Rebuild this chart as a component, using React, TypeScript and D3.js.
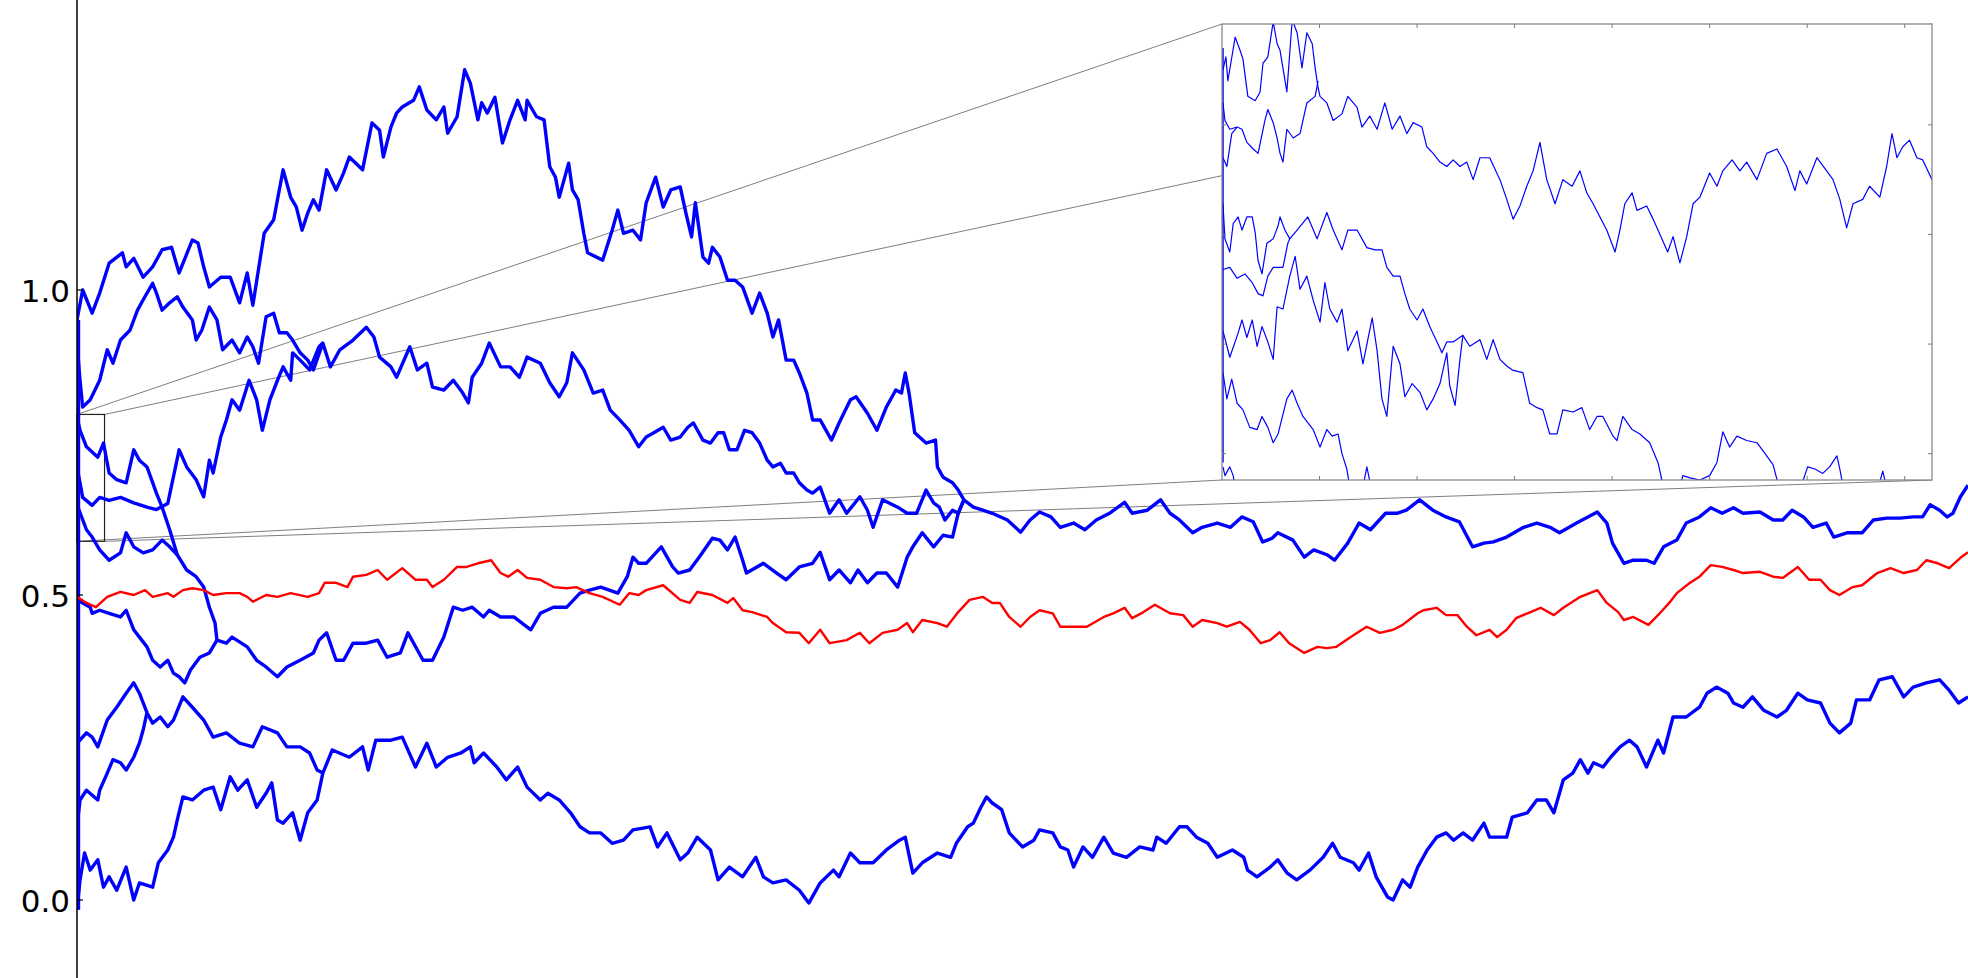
import React from 'react';
import * as d3 from 'd3';

type P = [number, number];

// ---------- y-axis ticks ----------
const yTicks = [0.0, 0.5, 1.0];
const insetXTicks = [0.002, 0.004, 0.006, 0.008, 0.01, 0.012, 0.014];
const insetYTicks = [0.6, 0.65, 0.7, 0.75];

// zoom window (shown in the inset)
const zoomX: [number, number] = [0, 0.01456];
const zoomY: [number, number] = [0.588, 0.796];

// every path starts on the line t = 0 (band of starting points)
const startBand: [number, number] = [-0.016, 0.951];

// ---------- main paths (t, value) ----------
const pathA: P[] = [[0,.951],[.003,1.000],[.008,.962],[.012,.995],[.017,1.044],[.024,1.061],[.026,1.038],[.030,1.052],[.035,1.021],[.040,1.038],[.045,1.066],[.050,1.070],[.054,1.028],[.061,1.082],[.064,1.077],[.067,1.038],[.070,1.005],[.076,1.021],[.081,1.021],[.086,.979],[.090,1.028],[.093,.975],[.097,1.054],[.099,1.093],[.104,1.115],[.106,1.148],[.109,1.197],[.113,1.152],[.116,1.136],[.119,1.098],[.122,1.126],[.125,1.148],[.128,1.131],[.132,1.197],[.137,1.164],[.141,1.192],[.144,1.218],[.151,1.197],[.156,1.274],[.160,1.262],[.162,1.218],[.166,1.267],[.169,1.290],[.172,1.300],[.178,1.311],[.181,1.333],[.185,1.295],[.190,1.279],[.194,1.300],[.196,1.257],[.201,1.284],[.205,1.361],[.208,1.339],[.212,1.279],[.214,1.307],[.217,1.290],[.221,1.316],[.225,1.241],[.229,1.279],[.233,1.311],[.237,1.279],[.238,1.311],[.243,1.284],[.247,1.279],[.250,1.202],[.253,1.185],[.255,1.152],[.260,1.208],[.262,1.164],[.265,1.148],[.268,1.093],[.270,1.061],[.278,1.049],[.283,1.098],[.286,1.131],[.289,1.093],[.294,1.098],[.298,1.082],[.301,1.143],[.306,1.185],[.310,1.136],[.314,1.164],[.319,1.169],[.322,1.126],[.325,1.087],[.327,1.143],[.331,1.054],[.334,1.044],[.336,1.070],[.340,1.054],[.344,1.016],[.348,1.016],[.352,1.005],[.357,.962],[.361,.995],[.365,.962],[.368,.923],[.371,.951],[.375,.885],[.379,.885],[.382,.864],[.386,.831],[.389,.787],[.393,.787],[.399,.754],[.403,.782],[.409,.820],[.412,.825],[.418,.798],[.423,.770],[.428,.808],[.433,.836],[.436,.831],[.438,.864],[.440,.831],[.443,.766],[.449,.749],[.454,.754],[.455,.710],[.458,.693],[.463,.684],[.466,.672],[.469,.656]];

const pathB: P[] = [[0,.913],[.0016,.852],[.003,.808],[.007,.820],[.012,.852],[.016,.902],[.019,.880],[.023,.918],[.028,.934],[.032,.967],[.035,.984],[.040,1.011],[.042,.995],[.045,.967],[.049,.979],[.053,.989],[.056,.972],[.061,.951],[.063,.918],[.066,.934],[.070,.972],[.074,.951],[.077,.902],[.082,.918],[.086,.897],[.090,.923],[.093,.907],[.096,.880],[.100,.956],[.104,.962],[.107,.930],[.111,.930],[.114,.918],[.118,.897],[.122,.885],[.125,.869],[.130,.913],[.134,.874],[.139,.902],[.146,.918],[.153,.939],[.157,.923],[.160,.890],[.166,.874],[.169,.857],[.176,.907],[.180,.869],[.185,.880],[.188,.841],[.194,.836],[.199,.852],[.204,.831],[.207,.815],[.209,.857],[.214,.880],[.218,.913],[.224,.874],[.229,.874],[.234,.857],[.238,.890],[.245,.880],[.250,.848],[.255,.825],[.259,.848],[.262,.897],[.268,.869],[.273,.831],[.278,.836],[.282,.803],[.287,.787],[.292,.770],[.297,.743],[.301,.759],[.305,.766],[.310,.775],[.314,.754],[.319,.759],[.323,.775],[.326,.782],[.331,.754],[.335,.749],[.339,.766],[.342,.766],[.345,.738],[.349,.738],[.353,.770],[.357,.766],[.361,.749],[.365,.721],[.368,.710],[.372,.716],[.375,.700],[.379,.700],[.382,.684],[.386,.672],[.389,.667],[.393,.677],[.398,.634],[.403,.656],[.407,.634],[.414,.661],[.418,.639],[.421,.611],[.426,.656],[.434,.644],[.439,.634],[.444,.634],[.449,.672],[.453,.651],[.456,.644],[.459,.623],[.463,.639],[.466,.634],[.469,.656]];

const pathJ: P[] = [[0,.710],[.003,.660],[.008,.647],[.012,.660],[.017,.655],[.023,.660],[.030,.651],[.037,.644],[.042,.640],[.048,.650],[.054,.738],[.058,.710],[.063,.689],[.067,.661],[.070,.721],[.072,.700],[.076,.759],[.079,.787],[.082,.820],[.086,.803],[.091,.852],[.095,.820],[.098,.770],[.102,.820],[.106,.852],[.109,.874],[.113,.852],[.114,.897],[.118,.885],[.123,.869],[.128,.907],[.130,.913]];

const pathC: P[] = [[0,.792],[.0016,.770],[.005,.743],[.011,.726],[.014,.749],[.017,.700],[.021,.689],[.026,.684],[.030,.738],[.033,.721],[.037,.710],[.042,.667],[.045,.644],[.049,.607],[.053,.566],[.058,.541],[.063,.530],[.067,.513],[.070,.480],[.073,.454],[.074,.426],[.079,.421],[.082,.431],[.090,.415],[.095,.393],[.100,.382],[.106,.366],[.111,.382],[.118,.393],[.125,.405],[.128,.426],[.132,.438],[.137,.393],[.141,.393],[.146,.421],[.153,.421],[.159,.426],[.164,.398],[.171,.405],[.175,.438],[.183,.393],[.188,.393],[.194,.431],[.199,.480],[.204,.475],[.209,.480],[.215,.464],[.218,.475],[.224,.464],[.231,.464],[.240,.443],[.245,.470],[.252,.480],[.259,.480],[.266,.503],[.271,.508],[.277,.513],[.286,.503],[.291,.530],[.294,.562],[.297,.552],[.301,.552],[.309,.579],[.315,.546],[.318,.536],[.324,.541],[.329,.562],[.336,.593],[.340,.590],[.344,.574],[.348,.595],[.352,.557],[.354,.536],[.363,.552],[.370,.536],[.375,.525],[.382,.546],[.389,.552],[.393,.570],[.398,.525],[.403,.541],[.409,.520],[.413,.541],[.418,.520],[.423,.536],[.428,.536],[.434,.513],[.439,.562],[.442,.579],[.447,.602],[.453,.579],[.458,.598],[.463,.595],[.466,.634],[.469,.656]];

const pathK: P[] = [[0,.648],[.005,.607],[.008,.595],[.012,.574],[.017,.557],[.023,.569],[.026,.602],[.030,.579],[.035,.569],[.040,.574],[.045,.590],[.049,.579],[.053,.566]];

const pathG: P[] = [[0,.492],[.007,.480],[.008,.470],[.012,.475],[.017,.470],[.023,.464],[.026,.475],[.030,.443],[.033,.431],[.037,.415],[.040,.393],[.044,.382],[.048,.393],[.051,.372],[.054,.366],[.057,.356],[.060,.377],[.065,.398],[.070,.405],[.074,.426]];

const pathM: P[] = [[.469,.656],[.474,.644],[.479,.639],[.484,.634],[.492,.623],[.499,.603],[.504,.623],[.509,.636],[.515,.628],[.520,.611],[.527,.618],[.533,.607],[.539,.623],[.546,.634],[.554,.652],[.558,.634],[.566,.639],[.573,.656],[.578,.634],[.583,.623],[.590,.602],[.595,.611],[.603,.618],[.610,.611],[.616,.628],[.622,.620],[.627,.587],[.632,.593],[.635,.602],[.643,.590],[.649,.562],[.654,.574],[.661,.566],[.665,.557],[.672,.585],[.678,.618],[.684,.607],[.692,.634],[.698,.634],[.703,.639],[.710,.656],[.717,.639],[.724,.628],[.731,.620],[.738,.579],[.744,.585],[.749,.587],[.756,.595],[.765,.611],[.772,.618],[.779,.611],[.784,.602],[.793,.618],[.804,.636],[.809,.618],[.812,.585],[.818,.552],[.823,.557],[.830,.557],[.834,.552],[.839,.579],[.846,.590],[.851,.618],[.858,.628],[.864,.643],[.870,.634],[.876,.643],[.881,.634],[.890,.636],[.897,.623],[.902,.623],[.907,.639],[.913,.628],[.918,.611],[.925,.618],[.929,.595],[.936,.602],[.944,.602],[.950,.623],[.957,.626],[.964,.626],[.971,.628],[.976,.628],[.980,.648],[.985,.639],[.989,.628],[.992,.634],[.996,.661],[1.0,.680]];

const pathF: P[] = [[0,.257],[.005,.274],[.008,.267],[.011,.251],[.016,.295],[.021,.316],[.026,.339],[.030,.356],[.033,.339],[.037,.307],[.040,.290],[.044,.300],[.048,.284],[.051,.295],[.056,.333],[.061,.316],[.067,.295],[.072,.267],[.079,.274],[.086,.257],[.093,.251],[.098,.284],[.106,.274],[.111,.251],[.118,.251],[.123,.241],[.127,.213],[.130,.208]];

const pathH: P[] = [[0,.120],[.0016,.164],[.005,.180],[.011,.164],[.012,.180],[.016,.208],[.019,.230],[.023,.225],[.026,.213],[.030,.234],[.033,.257],[.035,.279],[.037,.307]];

const pathD: P[] = [[0,-.016],[.0016,.033],[.004,.077],[.007,.049],[.011,.066],[.014,.021],[.017,.038],[.021,.016],[.026,.054],[.030,.000],[.033,.028],[.040,.021],[.043,.061],[.048,.082],[.051,.103],[.053,.131],[.056,.169],[.061,.164],[.067,.180],[.072,.185],[.076,.148],[.081,.202],[.085,.180],[.090,.197],[.095,.152],[.100,.175],[.103,.192],[.106,.131],[.109,.126],[.114,.143],[.118,.098],[.122,.143],[.127,.164],[.130,.208],[.135,.246],[.144,.234],[.151,.251],[.154,.213],[.158,.262],[.166,.262],[.172,.267],[.179,.218],[.185,.257],[.190,.218],[.196,.234],[.203,.241],[.208,.251],[.210,.225],[.215,.241],[.222,.218],[.227,.197],[.233,.218],[.238,.185],[.245,.164],[.249,.175],[.255,.164],[.261,.143],[.266,.120],[.271,.110],[.277,.110],[.283,.093],[.289,.098],[.294,.115],[.303,.120],[.307,.087],[.312,.110],[.319,.066],[.323,.077],[.328,.103],[.335,.082],[.339,.033],[.345,.054],[.352,.038],[.359,.070],[.363,.038],[.368,.028],[.375,.033],[.382,.016],[.387,-.005],[.393,.028],[.400,.049],[.403,.038],[.409,.077],[.414,.061],[.421,.061],[.428,.082],[.435,.098],[.438,.103],[.442,.044],[.447,.061],[.455,.077],[.462,.070],[.465,.093],[.471,.120],[.474,.126],[.478,.152],[.481,.169],[.484,.159],[.489,.148],[.493,.110],[.500,.087],[.506,.098],[.509,.115],[.516,.110],[.520,.087],[.524,.082],[.527,.054],[.532,.087],[.537,.070],[.543,.103],[.548,.077],[.555,.070],[.562,.087],[.569,.082],[.571,.103],[.576,.093],[.583,.120],[.587,.120],[.592,.103],[.598,.093],[.603,.070],[.611,.082],[.617,.070],[.619,.049],[.624,.038],[.631,.054],[.635,.066],[.640,.044],[.645,.033],[.652,.049],[.659,.070],[.664,.093],[.668,.070],[.675,.061],[.678,.049],[.683,.077],[.687,.038],[.693,.005],[.696,.000],[.701,.033],[.705,.021],[.709,.054],[.714,.082],[.719,.103],[.724,.110],[.728,.098],[.733,.110],[.738,.098],[.744,.126],[.747,.103],[.756,.103],[.759,.136],[.767,.143],[.772,.164],[.777,.164],[.781,.143],[.786,.197],[.791,.208],[.795,.230],[.799,.208],[.802,.225],[.807,.218],[.811,.234],[.816,.251],[.821,.262],[.825,.251],[.830,.218],[.836,.262],[.839,.241],[.844,.300],[.851,.300],[.858,.316],[.862,.339],[.867,.349],[.873,.339],[.876,.323],[.881,.316],[.886,.333],[.892,.311],[.899,.300],[.904,.311],[.910,.339],[.915,.328],[.922,.323],[.927,.290],[.932,.274],[.938,.290],[.941,.328],[.948,.328],[.953,.361],[.960,.366],[.966,.333],[.971,.349],[.978,.356],[.985,.361],[.990,.344],[.995,.323],[1.0,.333]];

const redPath: P[] = [[0,.497],[.005,.487],[.010,.480],[.016,.497],[.023,.505],[.030,.500],[.036,.508],[.040,.497],[.048,.503],[.051,.497],[.056,.508],[.061,.511],[.067,.508],[.072,.500],[.079,.503],[.086,.503],[.090,.497],[.093,.489],[.100,.500],[.106,.497],[.113,.503],[.122,.497],[.128,.503],[.131,.520],[.137,.520],[.143,.513],[.146,.530],[.153,.533],[.159,.541],[.164,.525],[.172,.544],[.179,.525],[.185,.525],[.188,.513],[.194,.525],[.201,.546],[.206,.546],[.212,.552],[.219,.557],[.224,.536],[.228,.530],[.233,.541],[.238,.528],[.245,.525],[.252,.513],[.259,.511],[.264,.513],[.271,.503],[.278,.497],[.287,.484],[.292,.503],[.297,.500],[.301,.508],[.310,.516],[.319,.492],[.324,.487],[.328,.505],[.336,.500],[.344,.487],[.347,.495],[.352,.475],[.357,.472],[.365,.464],[.368,.454],[.375,.439],[.382,.438],[.387,.421],[.393,.443],[.398,.421],[.407,.426],[.414,.438],[.419,.421],[.426,.438],[.434,.443],[.439,.454],[.442,.439],[.447,.459],[.455,.454],[.460,.448],[.466,.472],[.472,.492],[.479,.497],[.484,.487],[.488,.487],[.493,.464],[.499,.448],[.504,.464],[.509,.475],[.516,.470],[.520,.448],[.527,.448],[.534,.448],[.543,.464],[.548,.470],[.554,.479],[.558,.462],[.564,.472],[.570,.484],[.578,.470],[.585,.467],[.590,.448],[.595,.459],[.603,.454],[.608,.448],[.615,.456],[.620,.443],[.626,.421],[.631,.426],[.636,.439],[.641,.421],[.649,.405],[.656,.415],[.661,.413],[.666,.415],[.673,.430],[.682,.448],[.689,.438],[.696,.443],[.701,.451],[.709,.470],[.712,.475],[.719,.479],[.724,.467],[.730,.467],[.735,.448],[.740,.434],[.747,.443],[.751,.431],[.756,.443],[.761,.462],[.767,.470],[.774,.479],[.781,.467],[.786,.479],[.795,.497],[.804,.508],[.809,.487],[.815,.472],[.818,.459],[.823,.464],[.831,.451],[.837,.470],[.842,.487],[.846,.503],[.853,.520],[.858,.530],[.864,.549],[.870,.546],[.876,.541],[.881,.536],[.890,.538],[.897,.530],[.902,.528],[.910,.546],[.916,.525],[.922,.525],[.927,.508],[.932,.500],[.939,.513],[.944,.516],[.952,.536],[.959,.544],[.966,.536],[.973,.541],[.978,.557],[.984,.552],[.990,.544],[.996,.561],[1.0,.570]];

const mainBlue: P[][] = [pathD, pathH, pathF, pathG, pathK, pathJ, pathC, pathB, pathA, pathM];

// ---------- inset paths (zoomed start) ----------
const inset1: P[] = [[.00002,.775],[.00008,.781],[.00012,.770],[.00027,.790],[.00037,.784],[.00043,.780],[.00053,.763],[.00068,.761],[.00078,.765],[.00084,.778],[.00094,.781],[.00105,.797],[.00113,.787],[.00119,.784],[.00133,.765],[.00144,.798],[.00154,.792],[.00164,.776],[.00174,.792],[.00185,.787],[.00191,.776],[.00197,.767],[.00201,.763],[.00215,.760],[.00228,.752],[.00246,.755],[.00258,.763],[.00277,.758],[.00287,.749],[.00303,.754],[.00318,.748],[.00334,.760],[.00349,.748],[.00365,.754],[.00379,.746],[.00392,.751],[.0041,.749],[.0042,.740],[.00433,.737],[.00447,.733],[.00461,.731],[.00474,.734],[.00488,.731],[.00502,.733],[.00515,.725],[.00529,.735],[.00549,.735],[.0057,.725],[.00584,.716],[.00597,.707],[.00611,.713],[.00625,.722],[.00638,.729],[.00652,.742],[.00666,.725],[.00683,.714],[.00699,.725],[.00718,.722],[.00734,.729],[.00748,.719],[.00761,.714],[.00775,.708],[.00789,.702],[.00806,.692],[.00816,.702],[.00826,.714],[.00841,.719],[.00851,.711],[.00871,.713],[.00884,.707],[.00902,.698],[.00914,.692],[.00925,.699],[.00939,.687],[.00953,.699],[.00966,.714],[.0098,.717],[.01,.728],[.01015,.722],[.01027,.729],[.01046,.734],[.01062,.729],[.01076,.733],[.01097,.725],[.01117,.737],[.01138,.739],[.01158,.731],[.01175,.720],[.01185,.729],[.01199,.723],[.0122,.735],[.0124,.729],[.01253,.725],[.01267,.716],[.01281,.703],[.01294,.714],[.01314,.716],[.01328,.722],[.01349,.717],[.01363,.731],[.01374,.746],[.01384,.735],[.01396,.740],[.0141,.743],[.01425,.735],[.01437,.734],[.01456,.725]];
const inset2: P[] = [[.00002,.760],[.00006,.752],[.00016,.748],[.00031,.749],[.00041,.748],[.00051,.742],[.00064,.739],[.00074,.737],[.00088,.752],[.00094,.757],[.00105,.751],[.00113,.744],[.00119,.737],[.00125,.733],[.00133,.748],[.00146,.744],[.0016,.746],[.00174,.760],[.00191,.763],[.00197,.770]];
const inset2b: P[] = [[.00002,.735],[.0001,.731],[.0002,.746],[.00031,.749]];
const inset3a: P[] = [[.00002,.714],[.00006,.698],[.00016,.692],[.00023,.705],[.00033,.708],[.00041,.702],[.00051,.708],[.00062,.708],[.00068,.701],[.00074,.688],[.00082,.682],[.00092,.696],[.00105,.698],[.00115,.704],[.00119,.708],[.00129,.702],[.00139,.698],[.00154,.702],[.00176,.708],[.00195,.698],[.00215,.710],[.00228,.702],[.00246,.693],[.00258,.702],[.00277,.702],[.00297,.694],[.00314,.693],[.00328,.693],[.00338,.685],[.00351,.681],[.00365,.681],[.00375,.673],[.00385,.666],[.004,.661],[.00412,.666],[.00426,.658],[.00441,.651],[.00451,.646],[.00461,.651],[.00474,.651],[.00494,.654],[.00508,.649],[.00529,.652],[.00543,.643],[.00556,.652],[.0057,.643],[.00584,.640],[.00597,.638],[.00617,.637],[.00631,.623],[.00646,.621],[.00658,.620],[.00672,.609],[.00687,.609],[.00699,.620],[.0072,.619],[.00738,.621],[.00754,.611],[.00769,.617],[.00781,.617],[.00802,.608],[.0081,.606],[.00822,.617],[.00841,.611],[.00857,.609],[.00877,.605],[.00894,.596],[.00902,.588],[.00906,.580]];
const inset3b: P[] = [[.00002,.684],[.00016,.685],[.00031,.680],[.00047,.682],[.00062,.678],[.00074,.673],[.00084,.672],[.00094,.681],[.00105,.685],[.00113,.685],[.00125,.685],[.00135,.696],[.00139,.698]];
const inset3c: P[] = [[.00002,.656],[.00016,.644],[.00033,.655],[.00041,.661],[.00051,.653],[.00062,.661],[.00072,.649],[.00082,.658],[.00094,.651],[.00105,.643],[.00113,.667],[.00125,.666],[.00139,.681],[.0015,.690],[.0016,.675],[.00174,.681],[.00187,.670],[.00201,.660],[.00211,.678],[.00221,.666],[.00236,.660],[.00246,.666],[.00258,.647],[.00277,.656],[.00289,.641],[.00308,.662],[.00318,.647],[.00328,.625],[.00338,.617],[.00351,.649],[.00365,.641],[.00375,.626],[.0039,.632],[.00406,.628],[.0042,.620],[.00433,.625],[.00447,.632],[.00461,.646],[.00467,.631],[.00478,.622],[.00488,.643],[.00494,.654]];
const inset4: P[] = [[.00002,.637],[.0001,.625],[.0002,.634],[.00031,.623],[.00043,.620],[.00057,.612],[.00072,.611],[.00082,.617],[.00094,.612],[.00105,.605],[.00115,.609],[.00133,.625],[.00144,.629],[.00154,.623],[.00166,.617],[.00187,.611],[.00201,.603],[.00215,.611],[.00226,.608],[.00238,.609],[.00246,.600],[.00256,.593],[.00262,.585]];
const inset5: P[] = [[.00285,.580],[.00297,.594],[.0031,.580]];
const inset6: P[] = [[.00935,.580],[.00945,.590],[.0096,.589],[.0098,.588],[.01,.590],[.01015,.596],[.01027,.610],[.01041,.603],[.01056,.608],[.01076,.606],[.01097,.605],[.01117,.599],[.0113,.595],[.01148,.580]];
const inset7: P[] = [[.01180,.580],[.01201,.594],[.01216,.593],[.01232,.591],[.01246,.594],[.01261,.599],[.01267,.593],[.01278,.580]];
const inset8: P[] = [[.01340,.580],[.01355,.592],[.01368,.580]];
const inset9: P[] = [[.00002,.594],[.00006,.590],[.00016,.594],[.00023,.590],[.0003,.580]];

const insetBlue: P[][] = [inset1, inset2, inset2b, inset3a, inset3b, inset3c, inset4, inset5, inset6, inset7, inset8, inset9];

export default function App() {
  const W = 1968, H = 978;
  const x = d3.scaleLinear().domain([0, 1]).range([77, 1968]);
  const y = d3.scaleLinear().domain([0, 1]).range([900, 290]);
  const ix = d3.scaleLinear().domain(zoomX).range([1222, 1932]);
  const iy = d3.scaleLinear().domain(zoomY).range([480, 24]);

  const line = d3.line<P>().x(d => x(d[0])).y(d => y(d[1]));
  const iline = d3.line<P>().x(d => ix(d[0])).y(d => iy(d[1]));

  const rx0 = x(zoomX[0]), rx1 = x(zoomX[1]);
  const ry0 = y(zoomY[1]), ry1 = y(zoomY[0]);
  const ix0 = ix(zoomX[0]), ix1 = ix(zoomX[1]);
  const iy0 = iy(zoomY[1]), iy1 = iy(zoomY[0]);

  const connectors = [
    [rx0, ry0, ix0, iy0],
    [rx1, ry0, ix1, iy0],
    [rx0, ry1, ix0, iy1],
    [rx1, ry1, ix1, iy1],
  ];

  const gray = '#7f7f7f';

  return (
    <svg width={W} height={H} style={{ position: 'absolute', left: 0, top: 0, display: 'block', background: '#fff' }}
      fontFamily="DejaVu Sans, sans-serif">
      <rect x={0} y={0} width={W} height={H} fill="#fff" />
      <defs>
        <clipPath id="mainClip"><rect x={77} y={0} width={W - 77} height={H} /></clipPath>
        <clipPath id="insetClip"><rect x={ix0} y={iy0} width={ix1 - ix0} height={iy1 - iy0} /></clipPath>
      </defs>

      {/* zoom rectangle and connectors */}
      {connectors.map((c, i) => (
        <line key={i} x1={c[0]} y1={c[1]} x2={c[2]} y2={c[3]} stroke={gray} strokeWidth={1} />
      ))}
      <rect x={rx0} y={ry0} width={rx1 - rx0} height={ry1 - ry0} fill="none" stroke="#222" strokeWidth={1.2} />

      {/* main paths */}
      <g clipPath="url(#mainClip)" fill="none" strokeLinejoin="round">
        <line x1={x(0) + 1.5} x2={x(0) + 1.5} y1={y(startBand[0])} y2={y(startBand[1])} stroke="#0000ff" strokeWidth={3.4} />
        {mainBlue.map((p, i) => (
          <path key={i} d={line(p) || ''} stroke="#0000ff" strokeWidth={3.4} />
        ))}
        <path d={line(redPath) || ''} stroke="#ff0000" strokeWidth={2.4} />
      </g>

      {/* left spine and ticks */}
      <line x1={77} x2={77} y1={0} y2={H} stroke="#000" strokeWidth={1.5} />
      {yTicks.map(t => (
        <g key={t}>
          <line x1={77} x2={83} y1={y(t)} y2={y(t)} stroke="#000" strokeWidth={1.2} />
          <text x={70} y={y(t) + 11.5} textAnchor="end" fontSize={31} fill="#000">{t.toFixed(1)}</text>
        </g>
      ))}

      {/* inset */}
      <rect x={ix0} y={iy0} width={ix1 - ix0} height={iy1 - iy0} fill="#fff" />
      <g clipPath="url(#insetClip)" fill="none" strokeLinejoin="round">
        <line x1={ix0 + 1} x2={ix0 + 1} y1={iy(0.785)} y2={iy(0.596)} stroke="#0000ff" strokeWidth={1.5} />
        {insetBlue.map((p, i) => (
          <path key={i} d={iline(p) || ''} stroke="#0000ff" strokeWidth={1.2} />
        ))}
      </g>
      {insetXTicks.map(t => (
        <g key={'ix' + t}>
          <line x1={ix(t)} x2={ix(t)} y1={iy0} y2={iy0 + 4} stroke={gray} />
          <line x1={ix(t)} x2={ix(t)} y1={iy1} y2={iy1 - 4} stroke={gray} />
        </g>
      ))}
      {insetYTicks.map(t => (
        <g key={'iy' + t}>
          <line x1={ix0} x2={ix0 + 4} y1={iy(t)} y2={iy(t)} stroke={gray} />
          <line x1={ix1} x2={ix1 - 4} y1={iy(t)} y2={iy(t)} stroke={gray} />
        </g>
      ))}
      <rect x={ix0} y={iy0} width={ix1 - ix0} height={iy1 - iy0} fill="none" stroke={gray} strokeWidth={1.2} />
    </svg>
  );
}
